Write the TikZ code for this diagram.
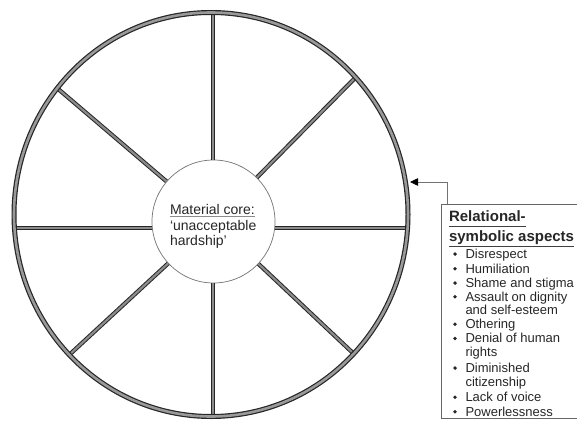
\documentclass[tikz,border=0pt]{standalone}
\usepackage{fontspec}
\setmainfont{Liberation Sans}
\usetikzlibrary{arrows.meta}
\begin{document}
\begin{tikzpicture}[x=1pt,y=-1pt,
  rimline/.style={draw=black!85, line width=1.2pt, double=black!40, double distance=2.6pt},
  spoke/.style={draw=black!85, line width=1pt, double=black!45, double distance=2.2pt},
  txt/.style={inner sep=0pt, outer sep=0pt, text=black!85, anchor=base west},
  coretxt/.style={txt, font=\fontsize{14}{16}\selectfont},
  head/.style={txt, font=\bfseries\fontsize{15}{18}\selectfont},
  itemtxt/.style={txt, font=\fontsize{13}{15}\selectfont},
  uline/.style={draw=black!75, line width=0.8pt},
  conn/.style={draw=black!55, line width=0.8pt, -{Triangle[length=8pt,width=7.5pt,color=black]}}
]
\useasboundingbox (0,0) rectangle (577,422);

% central hub
\node[circle, draw=black!55, line width=0.7pt, fill=white, minimum size=123pt,
      inner sep=0pt] (core) at (213.5,221.5) {};

% points where the spokes meet the rim
\coordinate (rT)  at (213,12.5);
\coordinate (rB)  at (213,416.5);
\coordinate (rL)  at (14.5,228);
\coordinate (rR)  at (407.5,228);
\coordinate (rUL) at (57,88);
\coordinate (rUR) at (356,77);
\coordinate (rLL) at (68,356);
\coordinate (rLR) at (354,354);

% spokes
\draw[spoke] (core.north -| rT) -- (rT);
\draw[spoke] (core.south -| rB) -- (rB);
\draw[spoke] (core.west |- rL) -- (rL);
\draw[spoke] (core.east |- rR) -- (rR);
\draw[spoke] (core) -- (rUL);
\draw[spoke] (core) -- (rUR);
\draw[spoke] (core) -- (rLL);
\draw[spoke] (core) -- (rLR);

% rim
\draw[rimline] (211,214.5) ellipse [x radius=197pt, y radius=202pt];

% hub label
\node[coretxt] (ct1) at (170,214.3) {Material core:};
\node[coretxt] (ct2) at (170,230) {‘unacceptable};
\node[coretxt] (ct3) at (170,245) {hardship’};
\draw[draw=black!45, line width=0.6pt] ([yshift=-1.8pt]ct1.base west) -- ([yshift=-1.8pt]ct1.base east);

% side panel
\node[draw=black!60, line width=0.8pt, anchor=north west, minimum width=140pt,
      minimum height=214pt, inner sep=0pt] (box) at (441,204) {};
\coordinate (hit) at (410,182);
\draw[conn] ([xshift=6pt]box.north west) |- (hit);

\node[head] (h1) at (449,221.7) {Relational-};
\node[head] (h2) at (449,241.5) {symbolic aspects};
\draw[uline] ([yshift=-5pt]h1.base west) -- ([yshift=-5pt]h1.base east);
\draw[uline] ([yshift=-4.5pt]h2.base west) -- ([yshift=-4.5pt]h2.base east);

\foreach \yy/\bflag/\lbl [count=\k] in {
    258.3/1/Disrespect,
    273/1/Humiliation,
    287.3/1/Shame and stigma,
    301/1/Assault on dignity,
    314.5/0/and self-esteem,
    328.5/1/Othering,
    342.7/1/Denial of human,
    356.3/0/rights,
    372.3/1/Diminished,
    386/0/citizenship,
    401.5/1/Lack of voice,
    416/1/Powerlessness} {
  \node[itemtxt] (ln\k) at (465.5,\yy) {\lbl};
  \ifnum\bflag=1
    \fill[black!85] (455,{\yy-4.2}) circle (1.9pt);
  \fi
}
\end{tikzpicture}
\end{document}
